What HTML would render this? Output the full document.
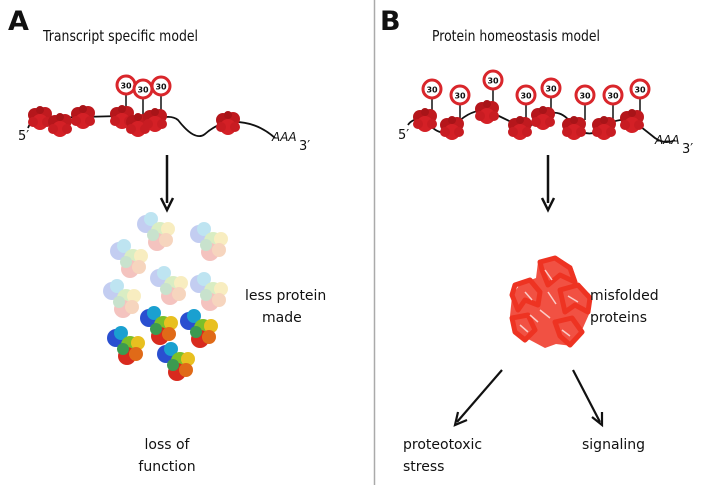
<!DOCTYPE html>
<html><head><meta charset="utf-8"><style>
html,body{margin:0;padding:0;background:#fff}
svg{display:block}
text{font-family:"DejaVu Sans","Liberation Sans",sans-serif;fill:#111}
</style></head><body>
<svg width="716" height="485" viewBox="0 0 716 485" xmlns="http://www.w3.org/2000/svg">
<defs>
<g id="rib">
 <circle cx="-5" cy="-3" r="7" fill="#b5161b"/>
 <circle cx="5" cy="-4" r="7" fill="#c01a1f"/>
 <circle cx="0" cy="4" r="8" fill="#d42026"/>
 <circle cx="-7" cy="4" r="5" fill="#c81c22"/>
 <circle cx="7" cy="4" r="5" fill="#c81c22"/>
 <circle cx="0" cy="-8" r="4" fill="#a81418"/>
</g>
<g id="sign">
 <circle r="9" fill="#fff" stroke="#d9262b" stroke-width="3"/>
 <text x="0" y="3.5" text-anchor="middle" style="font-size:8px;font-weight:bold">30</text>
</g>
<g id="prot">
 <circle cx="-11" cy="-9" r="9" fill="#2a4fd0"/>
 <circle cx="-6" cy="-14" r="7" fill="#1aa0d0"/>
 <circle cx="3" cy="-2" r="9" fill="#7bbf2a"/>
 <circle cx="11" cy="-4" r="7" fill="#e8c020"/>
 <circle cx="0" cy="9" r="9" fill="#d82a1e"/>
 <circle cx="9" cy="7" r="7" fill="#e06a18"/>
 <circle cx="-4" cy="2" r="6" fill="#3c9a50"/>
</g>
</defs>
<line x1="374.5" y1="0" x2="374.5" y2="485" stroke="#aaa" stroke-width="1.5"/>

<text x="8" y="30" style="font-size:27px;font-weight:bold">A</text>
<text x="43" y="41" textLength="155" lengthAdjust="spacingAndGlyphs" style="font-size:15px">Transcript specific model</text>
<text x="380" y="30" style="font-size:27px;font-weight:bold">B</text>
<text x="432" y="41" textLength="168" lengthAdjust="spacingAndGlyphs" style="font-size:15px">Protein homeostasis model</text>

<path d="M28,128 Q32,118 40,118 L82,117 L120,116 L160,118 Q172,115 178,120 Q195,142 205,134 Q215,125 228,122 Q255,120 275,138" fill="none" stroke="#111" stroke-width="1.8"/>
<text x="18" y="140" style="font-size:13px">5′</text>
<text x="272" y="141" style="font-size:12px;font-style:italic">AAA</text>
<text x="299" y="150" style="font-size:13px">3′</text>
<g stroke="#111" stroke-width="1.5">
<line x1="126" y1="92" x2="126" y2="112"/><line x1="143" y1="96" x2="143" y2="118"/><line x1="161" y1="93" x2="161" y2="115"/>
</g>
<use href="#rib" x="40" y="118"/><use href="#rib" x="60" y="125"/><use href="#rib" x="83" y="117"/>
<use href="#rib" x="122" y="117"/><use href="#rib" x="138" y="125"/><use href="#rib" x="155" y="120"/>
<use href="#rib" x="228" y="123"/>
<use href="#sign" x="126" y="85"/><use href="#sign" x="143" y="89"/><use href="#sign" x="161" y="86"/>

<line x1="167" y1="155" x2="167" y2="203" stroke="#111" stroke-width="2.5"/>
<path d="M161,198 L167,210 L173,198" fill="none" stroke="#111" stroke-width="2.5"/>

<g opacity="0.28">
<use href="#prot" x="157" y="233"/><use href="#prot" x="210" y="243"/><use href="#prot" x="130" y="260"/>
<use href="#prot" x="170" y="287"/><use href="#prot" x="210" y="293"/><use href="#prot" x="123" y="300"/>
</g>
<use href="#prot" x="160" y="327"/><use href="#prot" x="200" y="330"/><use href="#prot" x="127" y="347"/><use href="#prot" x="177" y="363"/>

<text x="245" y="300" style="font-size:14px">less protein</text>
<text x="262" y="322" style="font-size:14px">made</text>
<text x="167" y="449" text-anchor="middle" style="font-size:14px">loss of</text>
<text x="167" y="471" text-anchor="middle" style="font-size:14px">function</text>

<path d="M408,125 Q412,118 425,119 Q440,140 452,128 Q470,108 487,111 Q505,118 520,127 Q532,128 543,117 Q560,105 574,127 Q590,140 604,127 Q615,118 632,120 Q645,130 655,138 Q665,145 675,140" fill="none" stroke="#111" stroke-width="1.8"/>
<text x="398" y="139" style="font-size:13px">5′</text>
<text x="655" y="144" style="font-size:12px;font-style:italic">AAA</text>
<text x="682" y="153" style="font-size:13px">3′</text>
<g stroke="#111" stroke-width="1.5">
<line x1="432" y1="96" x2="432" y2="112"/><line x1="460" y1="102" x2="460" y2="120"/><line x1="493" y1="87" x2="493" y2="105"/>
<line x1="526" y1="102" x2="526" y2="120"/><line x1="551" y1="95" x2="551" y2="110"/><line x1="585" y1="102" x2="585" y2="120"/>
<line x1="613" y1="102" x2="613" y2="120"/><line x1="640" y1="96" x2="640" y2="113"/>
</g>
<use href="#rib" x="425" y="120"/><use href="#rib" x="452" y="128"/><use href="#rib" x="487" y="112"/><use href="#rib" x="520" y="128"/>
<use href="#rib" x="543" y="118"/><use href="#rib" x="574" y="128"/><use href="#rib" x="604" y="128"/><use href="#rib" x="632" y="121"/>
<use href="#sign" x="432" y="89"/><use href="#sign" x="460" y="95"/><use href="#sign" x="493" y="80"/><use href="#sign" x="526" y="95"/>
<use href="#sign" x="551" y="88"/><use href="#sign" x="585" y="95"/><use href="#sign" x="613" y="95"/><use href="#sign" x="640" y="89"/>

<line x1="548" y1="155" x2="548" y2="203" stroke="#111" stroke-width="2.5"/>
<path d="M542,198 L548,210 L554,198" fill="none" stroke="#111" stroke-width="2.5"/>

<!-- misfolded -->
<g fill="#ee3322" opacity="0.85">
<path d="M538,262 L556,256 L572,266 L578,284 L590,294 L590,312 L582,330 L572,346 L556,344 L545,348 L530,340 L515,334 L510,316 L512,296 L520,284 L536,278 Z"/>
</g>
<g fill="none" stroke="#ee3322" stroke-width="5" stroke-linejoin="round" stroke-linecap="round">
<path d="M540,262 L555,258 L570,268 L575,282 L560,275 L548,285 L542,270 Z"/>
<path d="M515,285 L530,280 L540,292 L538,305 L525,300 L518,310 L512,295 Z"/>
<path d="M560,290 L578,285 L590,298 L588,312 L575,305 L565,312 Z"/>
<path d="M512,318 L528,315 L535,330 L525,340 L515,332 Z"/>
<path d="M555,322 L572,318 L582,332 L570,345 L560,336 Z"/>
</g>
<g fill="none" stroke="#fff" stroke-width="1.5" opacity="0.7">
<path d="M545,270 L552,280 M525,292 L532,300 M568,296 L578,302 M540,310 L550,318 M520,325 L528,332 M562,330 L570,336 M548,292 L556,304 M530,315 L538,322"/>
</g>
<text x="590" y="300" style="font-size:14px">misfolded</text>
<text x="590" y="322" style="font-size:14px">proteins</text>

<g stroke="#111" stroke-width="2.2" fill="none">
<line x1="502" y1="370" x2="457" y2="422"/><path d="M458,412 L455,425 L467,420"/>
<line x1="573" y1="370" x2="600" y2="422"/><path d="M592,417 L602,425 L602,412"/>
</g>
<text x="403" y="449" style="font-size:14px">proteotoxic</text>
<text x="403" y="471" style="font-size:14px">stress</text>
<text x="582" y="449" style="font-size:14px">signaling</text>
</svg>
</body></html>
